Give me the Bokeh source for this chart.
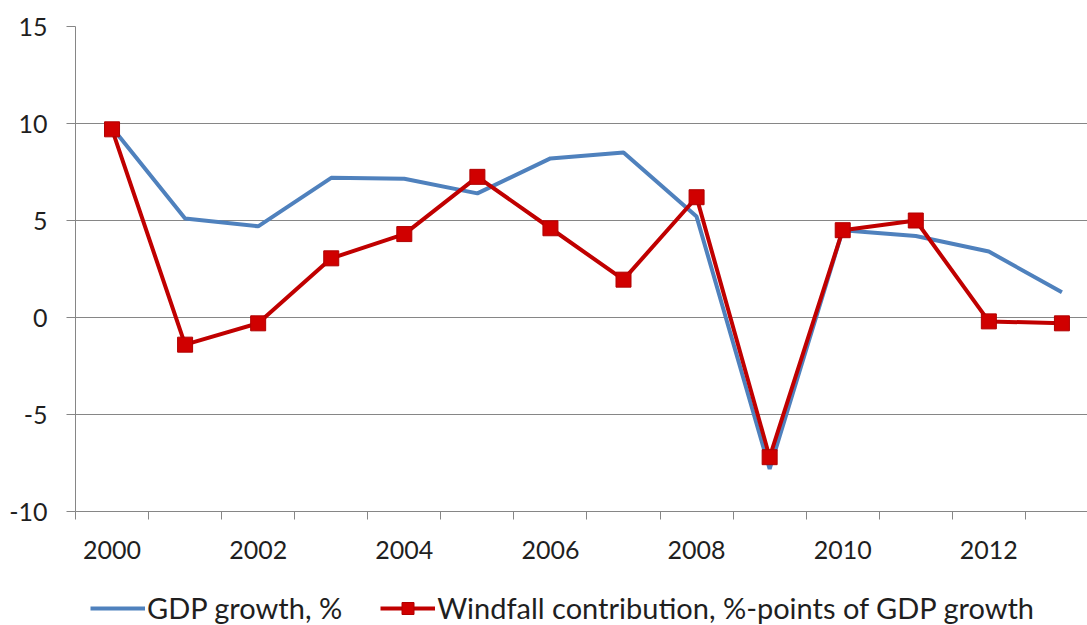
from bokeh.plotting import figure
from bokeh.layouts import column
from bokeh.models import Range1d, FixedTicker, Legend, LegendItem, PrintfTickFormatter
from bokeh.embed import file_html
from bokeh.resources import INLINE

years = [2000, 2001, 2002, 2003, 2004, 2005, 2006, 2007, 2008, 2009, 2010, 2011, 2012, 2013]
gdp_growth = [9.8, 5.1, 4.7, 7.2, 7.15, 6.4, 8.2, 8.5, 5.2, -7.8, 4.5, 4.2, 3.4, 1.3]
windfall = [9.7, -1.4, -0.3, 3.05, 4.3, 7.25, 4.6, 1.95, 6.2, -7.2, 4.5, 5.0, -0.2, -0.3]
y_ticks = [-10, -5, 0, 5, 10, 15]
x_labels = [2000, 2002, 2004, 2006, 2008, 2010, 2012]
series_names = ["GDP growth, %", "Windfall contribution, %-points of GDP growth"]

FONT = "Lato"
TXT = "#1f1f1f"
GRID = "#868686"
BLUE = "#4F81BD"
RED = "#C00000"

p = figure(width=1087, height=575, output_backend="svg", toolbar_location=None,
           x_range=Range1d(1999.5, 2013.35), y_range=Range1d(-10, 15),
           min_border_left=75, min_border_right=0, min_border_top=26, min_border_bottom=64)
p.outline_line_color = None

# y axis
p.yaxis.ticker = FixedTicker(ticks=y_ticks)
p.yaxis.formatter = PrintfTickFormatter(format="%d")
p.yaxis.axis_line_color = GRID
p.yaxis.major_tick_line_color = GRID
p.yaxis.major_tick_out = 9
p.yaxis.major_tick_in = 0
p.yaxis.minor_tick_line_color = None
p.yaxis.major_label_standoff = 19
p.yaxis.major_label_text_font = FONT
p.yaxis.major_label_text_font_size = "25px"
p.yaxis.major_label_text_color = TXT

# x axis: labels at even years, tick marks between categories
p.xaxis.ticker = FixedTicker(ticks=x_labels, minor_ticks=[y - 0.5 for y in years] + [years[-1] + 0.5])
p.xaxis.formatter = PrintfTickFormatter(format="%d")
p.xaxis.axis_line_color = GRID
p.xaxis.major_tick_line_color = None
p.xaxis.major_tick_out = 0
p.xaxis.major_tick_in = 0
p.xaxis.minor_tick_line_color = GRID
p.xaxis.minor_tick_out = 8
p.xaxis.minor_tick_in = 0
p.xaxis.major_label_standoff = 21
p.xaxis.major_label_text_font = FONT
p.xaxis.major_label_text_font_size = "25px"
p.xaxis.major_label_text_color = TXT

p.xgrid.grid_line_color = None
p.ygrid.grid_line_color = GRID
p.ygrid.grid_line_width = 1

p.line(years, gdp_growth, line_color=BLUE, line_width=4)
p.line(years, windfall, line_color=RED, line_width=4)
p.scatter(years, windfall, marker="square", size=15,
          fill_color="#D00000", line_color="#B00000", line_width=1)

# legend strip below the chart (same series, drawn out of view so only the legend shows)
lg = figure(width=1087, height=50, output_backend="svg", toolbar_location=None,
            x_range=Range1d(0, 1), y_range=Range1d(0, 1),
            x_axis_type=None, y_axis_type=None, min_border=0)
lg.outline_line_color = None
lg.xgrid.grid_line_color = None
lg.ygrid.grid_line_color = None
g1 = lg.line(years, gdp_growth, line_color=BLUE, line_width=4)
g2 = lg.line(years, windfall, line_color=RED, line_width=4)
g3 = lg.scatter(years, windfall, marker="square", size=15,
                fill_color="#D00000", line_color="#B00000", line_width=1)

legend = Legend(items=[LegendItem(label=series_names[0], renderers=[g1]),
                       LegendItem(label=series_names[1], renderers=[g2, g3])],
                orientation="horizontal", location=(15, 0),
                padding=0, margin=0, spacing=38, label_standoff=2,
                glyph_width=55, glyph_height=30,
                label_text_font=FONT, label_text_font_size="29px",
                label_text_color=TXT, border_line_color=None,
                background_fill_alpha=0)
lg.add_layout(legend, "center")

layout = column(p, lg, spacing=0)
open("out.html", "w").write(file_html(layout, INLINE))
